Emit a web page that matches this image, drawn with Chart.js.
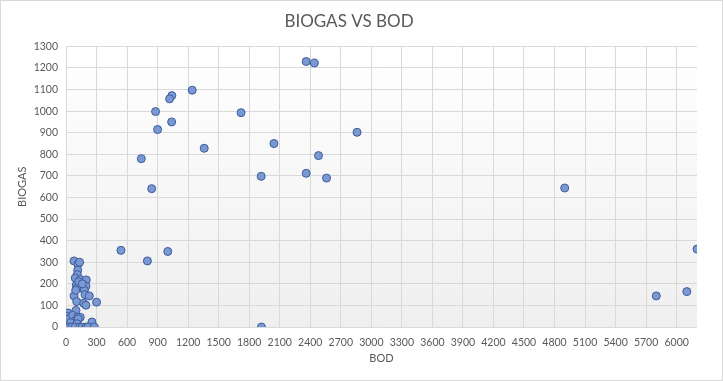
<!DOCTYPE html>
<html>
<head>
<meta charset="utf-8">
<script src="https://cdn.jsdelivr.net/npm/chart.js@4.4.1/dist/chart.umd.min.js"></script>
<style>
  html, body { margin: 0; padding: 0; background: #fff; }
  #wrap { width: 723px; height: 381px; box-sizing: border-box; border: 1px solid #d9d9d9; }
  canvas { display: block; }
</style>
</head>
<body>
<div id="wrap"><canvas id="chart" width="721" height="379"></canvas></div>
<script>
  // values (BOD on x, BIOGAS on y)
  const bodValues = [
    2360, 2440, 1240, 1040, 1018, 880, 1720, 1038, 900, 2860,
    1358, 2043, 2481, 740, 2360, 1918, 2560, 842, 4900, 6200,
    5800, 6100, 540, 800, 1000, 1920, 300,
    79, 118, 134, 115, 111, 91, 140, 199, 101, 137, 196, 157, 108,
    180, 187, 79, 229, 105, 174, 196, 125, 160, 95,
    20, 98, 3, 23, 66, 88, 115, 140, 120, 255, 45, 110,
    3, 30, 59, 91, 137, 160, 196, 216, 278
  ];
  const biogasValues = [
    1230, 1223, 1097, 1072, 1057, 998, 993, 950, 915, 902,
    828, 850, 794, 780, 712, 698, 690, 641, 644, 361,
    144, 164, 355, 306, 350, 0, 115,
    306, 291, 300, 263, 243, 227, 220, 218, 194, 186, 189, 181, 180,
    170, 150, 144, 144, 118, 110, 101, 210, 200, 170,
    65, 77, 50, 37, 54, 28, 45, 45, 38, 23, 20, 15,
    0, 0, 0, 0, 0, 0, 0, 0, 0
  ];
  const xTicks = { min: 0, max: 6200, step: 300 };
  const yTicks = { min: 0, max: 1300, step: 100 };

  const points = bodValues.map((x, i) => ({ x: x, y: biogasValues[i] }));

  const FONT = "Lato, 'Liberation Sans', sans-serif";
  const TEXT = '#595959';
  const GRID = '#d9d9d9';

  // light grey fade in the plot area
  const plotBg = {
    id: 'plotBg',
    beforeDraw(chart) {
      const { ctx, chartArea: a } = chart;
      const g = ctx.createLinearGradient(0, a.top, 0, a.bottom);
      g.addColorStop(0, '#ffffff');
      g.addColorStop(1, '#efefef');
      ctx.save();
      ctx.fillStyle = g;
      ctx.fillRect(a.left, a.top, a.right - a.left, a.bottom - a.top);
      ctx.restore();
    }
  };

  new Chart(document.getElementById('chart'), {
    type: 'scatter',
    data: {
      datasets: [{
        label: 'BIOGAS',
        data: points,
        backgroundColor: '#7a99d3',
        borderColor: '#3c5c9c',
        borderWidth: 1,
        pointRadius: 4,
      }],
    },
    plugins: [plotBg],
    options: {
      responsive: false,
      animation: false,
      layout: { padding: { left: 0, right: 25, top: 0, bottom: 11 } },
      plugins: {
        legend: { display: false },
        tooltip: { enabled: false },
        title: {
          display: true,
          text: 'BIOGAS VS BOD',
          color: TEXT,
          font: { family: FONT, size: 17, weight: 'normal' },
          padding: { top: 10, bottom: 15 },
        },
      },
      scales: {
        x: {
          type: 'linear',
          min: xTicks.min,
          max: xTicks.max,
          border: { display: false },
          grid: { color: GRID, drawTicks: false },
          ticks: {
            stepSize: xTicks.step,
            includeBounds: false,
            autoSkip: false,
            maxRotation: 0,
            padding: 9,
            color: TEXT,
            font: { family: FONT, size: 10.5 },
            callback: (v) => String(v),
          },
          title: { display: true, text: 'BOD', color: TEXT, font: { family: FONT, size: 11 }, padding: { top: 8 } },
          afterFit: (s) => { s.height = 42; },
        },
        y: {
          min: yTicks.min,
          max: yTicks.max,
          border: { display: false },
          grid: { color: GRID, drawTicks: false },
          ticks: {
            stepSize: yTicks.step,
            padding: 8,
            color: TEXT,
            font: { family: FONT, size: 10.5 },
            callback: (v) => String(v),
          },
          title: { display: true, text: 'BIOGAS', color: TEXT, font: { family: FONT, size: 11 }, padding: { top: 15, bottom: 4 } },
          afterFit: (s) => { s.width = 65; },
        },
      },
    },
  });
</script>
</body>
</html>
